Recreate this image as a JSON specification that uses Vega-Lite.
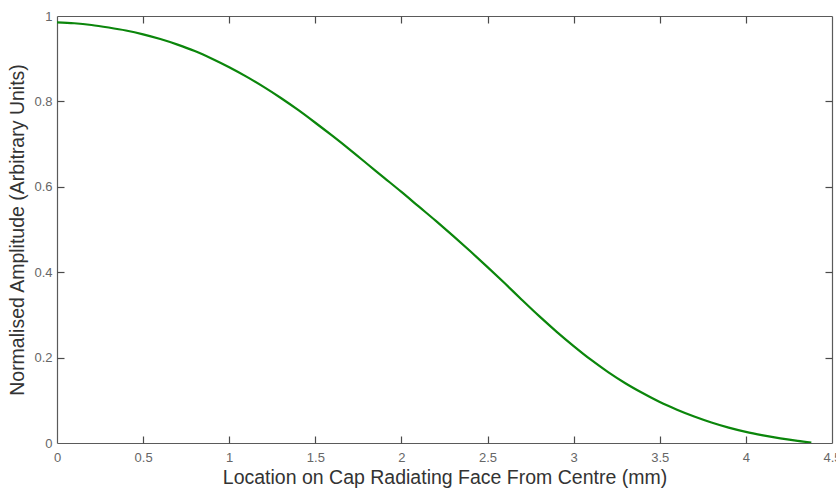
{
  "$schema": "https://vega.github.io/schema/vega-lite/v6.json",
  "width": 775,
  "height": 427,
  "autosize": {"type": "none"},
  "padding": {"left": 57, "top": 16, "right": 4, "bottom": 46},
  "background": "white",
  "config": {
    "view": {"stroke": null},
    "font": "Liberation Sans",
    "axis": {
      "grid": false,
      "domainColor": "#5a5a5a",
      "domainWidth": 1.2,
      "tickColor": "#4a4a4a",
      "tickSize": 7,
      "tickWidth": 1.2,
      "labelFont": "Liberation Sans",
      "labelFontSize": 13,
      "labelColor": "#666666",
      "titleFont": "Liberation Sans",
      "titleFontSize": 19.5,
      "titleFontWeight": "normal",
      "titleColor": "#333333"
    }
  },
  "data": {
    "values": [
      {"x": 0.0, "y": 0.985}, {"x": 0.1, "y": 0.983}, {"x": 0.2, "y": 0.979}, {"x": 0.3, "y": 0.973},
      {"x": 0.4, "y": 0.966}, {"x": 0.5, "y": 0.957}, {"x": 0.6, "y": 0.946}, {"x": 0.7, "y": 0.933},
      {"x": 0.8, "y": 0.918}, {"x": 0.9, "y": 0.9}, {"x": 1.0, "y": 0.88}, {"x": 1.1, "y": 0.858},
      {"x": 1.2, "y": 0.834}, {"x": 1.3, "y": 0.808}, {"x": 1.4, "y": 0.78}, {"x": 1.5, "y": 0.75},
      {"x": 1.6, "y": 0.719}, {"x": 1.7, "y": 0.687}, {"x": 1.8, "y": 0.654}, {"x": 1.9, "y": 0.621},
      {"x": 2.0, "y": 0.588}, {"x": 2.1, "y": 0.554}, {"x": 2.2, "y": 0.52}, {"x": 2.3, "y": 0.485},
      {"x": 2.4, "y": 0.449}, {"x": 2.5, "y": 0.412}, {"x": 2.6, "y": 0.374}, {"x": 2.7, "y": 0.335},
      {"x": 2.8, "y": 0.297}, {"x": 2.9, "y": 0.261}, {"x": 3.0, "y": 0.227}, {"x": 3.1, "y": 0.195},
      {"x": 3.2, "y": 0.166}, {"x": 3.3, "y": 0.14}, {"x": 3.4, "y": 0.117}, {"x": 3.5, "y": 0.096},
      {"x": 3.6, "y": 0.078}, {"x": 3.7, "y": 0.062}, {"x": 3.8, "y": 0.048}, {"x": 3.9, "y": 0.036},
      {"x": 4.0, "y": 0.026}, {"x": 4.1, "y": 0.018}, {"x": 4.2, "y": 0.011}, {"x": 4.3, "y": 0.005},
      {"x": 4.38, "y": 0.001}
    ]
  },
  "layer": [
    {
      "mark": {"type": "line", "color": "#0b860b", "strokeWidth": 2.2, "interpolate": "monotone", "clip": true},
      "encoding": {
        "x": {"field": "x", "type": "quantitative", "scale": {"domain": [0, 4.5], "nice": false},
          "axis": {"orient": "bottom", "values": [0, 0.5, 1, 1.5, 2, 2.5, 3, 3.5, 4, 4.5], "format": "~g", "ticks": false, "labelPadding": 8, "title": "Location on Cap Radiating Face From Centre (mm)", "titlePadding": 4, "labelFlush": false, "labelOverlap": false}},
        "y": {"field": "y", "type": "quantitative", "scale": {"domain": [0, 1], "nice": false},
          "axis": {"orient": "left", "values": [0, 0.2, 0.4, 0.6, 0.8, 1], "format": "~g", "ticks": false, "labelPadding": 5, "title": "Normalised Amplitude (Arbitrary Units)", "titlePadding": 6, "labelFlush": false, "labelOverlap": false}}
      }
    },
    {
      "mark": {"type": "line", "opacity": 0},
      "encoding": {
        "x": {"field": "x", "type": "quantitative", "scale": {"domain": [0, 4.5], "nice": false},
          "axis": {"orient": "top", "ticks": false, "labels": false, "title": null}},
        "y": {"field": "y", "type": "quantitative", "scale": {"domain": [0, 1], "nice": false},
          "axis": {"orient": "right", "ticks": false, "labels": false, "title": null}}
      }
    },
    {
      "mark": {"type": "line", "opacity": 0},
      "encoding": {
        "x": {"field": "x", "type": "quantitative", "scale": {"domain": [0, 4.5], "nice": false},
          "axis": {"orient": "top", "offset": -427, "domain": false, "values": [0.5, 1, 1.5, 2, 2.5, 3, 3.5, 4], "labels": false, "title": null}},
        "y": {"field": "y", "type": "quantitative", "scale": {"domain": [0, 1], "nice": false},
          "axis": {"orient": "right", "offset": -775, "domain": false, "values": [0.2, 0.4, 0.6, 0.8], "labels": false, "title": null}}
      }
    },
    {
      "mark": {"type": "line", "opacity": 0},
      "encoding": {
        "x": {"field": "x", "type": "quantitative", "scale": {"domain": [0, 4.5], "nice": false},
          "axis": {"orient": "bottom", "offset": -427, "domain": false, "values": [0.5, 1, 1.5, 2, 2.5, 3, 3.5, 4], "labels": false, "title": null}},
        "y": {"field": "y", "type": "quantitative", "scale": {"domain": [0, 1], "nice": false},
          "axis": {"orient": "left", "offset": -775, "domain": false, "values": [0.2, 0.4, 0.6, 0.8], "labels": false, "title": null}}
      }
    }
  ],
  "resolve": {"axis": {"x": "independent", "y": "independent"}}
}
